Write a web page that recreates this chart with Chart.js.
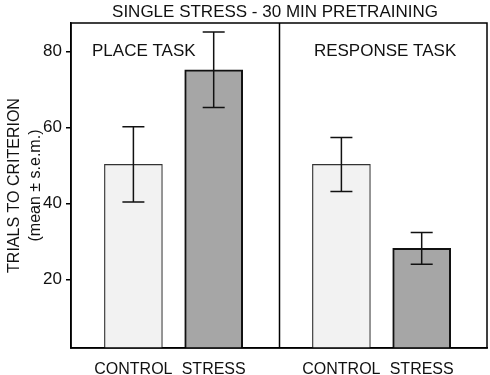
<!DOCTYPE html>
<html>
<head>
<meta charset="utf-8">
<script src="https://cdn.jsdelivr.net/npm/chart.js@4.4.1/dist/chart.umd.min.js"></script>
<style>
  html, body { margin: 0; padding: 0; background: #fff; }
  #wrap { width: 490px; height: 375px; }
</style>
</head>
<body>
<div id="wrap"><canvas id="myChart" width="490" height="375"></canvas></div>
<script>
// data
const tasks = ['PLACE TASK', 'RESPONSE TASK'];
const conditions = ['CONTROL', 'STRESS'];
const controlMean = [50.3, 50.3];
const controlSem = [9.9, 7.1];
const stressMean = [75.2, 28.2];
const stressSem = [9.9, 4.2];
const yTicks = [20, 40, 60, 80];

const FONT = "'Liberation Sans', Arial, sans-serif";

// x layout: each task panel is 5 units wide
function barX(task, cond) {
  return task * 5 + (cond === 0 ? 1.5 : 3.43);
}

const means = [controlMean, stressMean];
const sems = [controlSem, stressSem];

const data = {
  datasets: [
    {
      label: conditions[0],
      data: tasks.map((t, i) => ({ x: barX(i, 0), y: controlMean[i] })),
      backgroundColor: '#f2f2f2',
      borderColor: '#333333',
      borderWidth: 1.2
    },
    {
      label: conditions[1],
      data: tasks.map((t, i) => ({ x: barX(i, 1), y: stressMean[i] })),
      backgroundColor: '#a6a6a6',
      borderColor: '#111111',
      borderWidth: 2
    }
  ]
};

// error bars, frame, panel divider, texts
const extras = {
  id: 'extras',
  afterDatasetsDraw(chart) {
    const { ctx, chartArea: { left, right, top, bottom }, scales: { x, y } } = chart;
    ctx.save();

    // error bars
    ctx.strokeStyle = '#111';
    ctx.lineWidth = 1.5;
    for (let c = 0; c < 2; c++) {
      for (let t = 0; t < tasks.length; t++) {
        const px = x.getPixelForValue(barX(t, c));
        const hi = y.getPixelForValue(means[c][t] + sems[c][t]);
        const lo = y.getPixelForValue(means[c][t] - sems[c][t]);
        ctx.beginPath();
        ctx.moveTo(px, hi); ctx.lineTo(px, lo);
        ctx.moveTo(px - 11, hi); ctx.lineTo(px + 11, hi);
        ctx.moveTo(px - 11, lo); ctx.lineTo(px + 11, lo);
        ctx.stroke();
      }
    }

    // frame + divider
    ctx.strokeStyle = '#000';
    ctx.lineWidth = 1.5;
    ctx.strokeRect(left, top, right - left, bottom - top);
    const dx = Math.round(x.getPixelForValue(5)) + 0.5;
    ctx.beginPath();
    ctx.moveTo(dx, top); ctx.lineTo(dx, bottom);
    ctx.stroke();

    // panel labels
    ctx.fillStyle = '#111';
    ctx.font = '17px ' + FONT;
    ctx.textAlign = 'center';
    ctx.textBaseline = 'middle';
    ctx.fillText(tasks[0], x.getPixelForValue(1.75), y.getPixelForValue(80));
    ctx.fillText(tasks[1], x.getPixelForValue(7.55), y.getPixelForValue(80));

    // title
    ctx.fillText('SINGLE STRESS - 30 MIN PRETRAINING', (left + right) / 2 - 4, 12);
    ctx.restore();
  }
};

const config = {
  type: 'bar',
  data: data,
  options: {
    responsive: false,
    animation: false,
    layout: { padding: { top: 23, right: 3, left: 0, bottom: 0 } },
    datasets: { bar: { grouped: false, barThickness: 58 } },
    plugins: {
      legend: { display: false },
      tooltip: { enabled: false }
    },
    scales: {
      x: {
        type: 'linear',
        min: 0,
        max: 10,
        offset: false,
        grid: { display: false },
        border: { display: true, color: '#000', width: 1.5 },
        afterBuildTicks: (scale) => {
          const ticks = [];
          tasks.forEach((t, i) => {
            conditions.forEach((c, j) => ticks.push({ value: barX(i, j) }));
          });
          scale.ticks = ticks;
        },
        afterFit: (scale) => { scale.height = 27; },
        ticks: {
          color: '#111',
          padding: 4,
          maxRotation: 0,
          autoSkip: false,
          font: { family: FONT, size: 16 },
          callback: (value, index) => conditions[index % 2]
        }
      },
      y: {
        min: 2,
        max: 87.5,
        grid: { drawOnChartArea: false, drawTicks: true, tickLength: 5, color: '#000', lineWidth: 1.5 },
        border: { display: true, color: '#000', width: 1.5 },
        afterBuildTicks: (scale) => { scale.ticks = yTicks.map(v => ({ value: v })); },
        afterFit: (scale) => { scale.width = 71; },
        ticks: {
          color: '#111',
          padding: 4,
          font: { family: FONT, size: 17 }
        },
        title: {
          display: true,
          text: ['TRIALS TO CRITERION', '(mean \u00b1 s.e.m.)'],
          color: '#111',
          padding: { top: 4, bottom: 0 },
          font: { family: FONT, size: 16, lineHeight: 1.3 }
        }
      }
    }
  },
  plugins: [extras]
};

const myChart = new Chart(document.getElementById('myChart'), config);
</script>
</body>
</html>
